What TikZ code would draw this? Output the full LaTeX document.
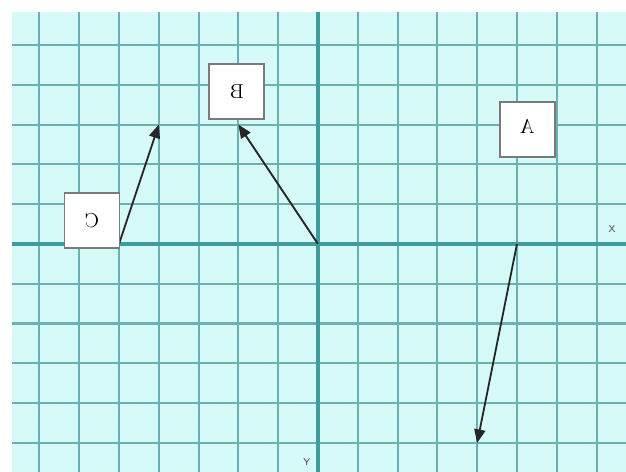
\documentclass[tikz,border=0pt]{standalone}
\usepackage{xcolor}
\usepackage{graphicx}
\usepackage{tikz}
\usetikzlibrary{arrows.meta,positioning}
\definecolor{paper}{HTML}{D6FAF8}
\definecolor{gridline}{HTML}{6AB2B2}
\definecolor{axisline}{HTML}{3F9C9C}
\definecolor{boxline}{HTML}{7A7A7A}

\begin{document}
\begin{tikzpicture}[>={Triangle[length=3.4mm, width=2.8mm]}, x=1cm, y=1cm,
    lbl/.style={draw=boxline, line width=1.2pt, fill=white, minimum size=1.38cm, inner sep=0pt, font=\Large},
    axlbl/.style={font=\sffamily\scriptsize, text=black!70, inner sep=0pt},
    vec/.style={->, line width=1.3pt, black!85}]
    \useasboundingbox (-7.99,-5.73) rectangle (7.74,6.13);
    \fill[paper] (-7.69,-5.73) rectangle (7.74,5.83);
    \foreach \i in {-7,...,7}
      \draw[gridline, line width=1.5pt] (\i,-5.73) -- (\i,5.83);
    \foreach \j in {-5,...,5}
      \draw[gridline, line width=1.5pt] (-7.69,\j) -- (7.74,\j);
    \draw[axisline, line width=2.4pt] (-7.69,0) -- (7.74,0);
    \draw[axisline, line width=2.4pt] (0,-5.73) -- (0,5.83);
    \node[axlbl] (xl) at (7.39,0.38) {X};
    \node[axlbl] (yl) at (-0.28,-5.48) {Y};
    % tails and heads
    \coordinate (o) at (0,0);
    \coordinate (ctail) at (-5,0);
    \coordinate (chead) at (-4,3);
    \coordinate (bhead) at (-2,3);
    \coordinate (atail) at (5,0);
    \coordinate (ahead) at (4,-5);
    \draw[vec] (ctail) -- (chead);
    \draw[vec] (o) -- (bhead);
    \draw[vec] (atail) -- (ahead);
    \node[lbl] (c) at (-5.68,0.59) {\reflectbox{C}};
    \node[lbl] (b) at (-2.04,3.83) {\reflectbox{B}};
    \node[lbl] (a) at (5.26,2.88) {\raisebox{1.5mm}{\reflectbox{A}}};
  \end{tikzpicture}
\end{document}
